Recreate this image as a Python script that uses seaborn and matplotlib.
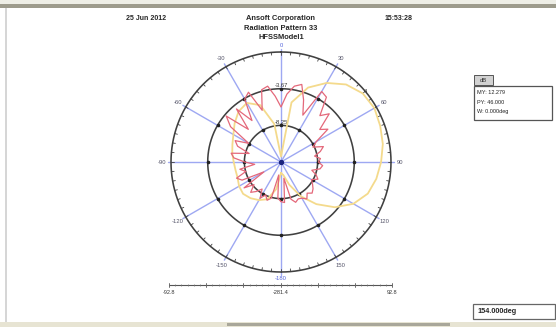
import numpy as np
import pandas as pd
import matplotlib
matplotlib.use("Agg")
import matplotlib.pyplot as plt
from matplotlib.patches import Rectangle
import seaborn as sns

# ---- data ---------------------------------------------------------------
ring_levels = [-8.25, -3.67, 0.92]          # dB levels of the three rings
ring_labels = ["-8.25", "-3.67"]
center_level = -12.83                         # dB at the plot centre

angle_ticks = [0, 30, 60, 90, 120, 150, 180, 210, 240, 270, 300, 330]
angle_labels = ["0", "30", "60", "90", "120", "150", "-180",
                "-150", "-120", "-90", "-60", "-30"]

# red trace, 5 degree steps from -180
red_angles = list(range(-180, 180, 5))
red_norm = [0.36, 0.33, 0.12, 0.34, 0.37, 0.33, 0.38, 0.30, 0.35, 0.39,
            0.32, 0.41, 0.18, 0.39, 0.43, 0.33, 0.38, 0.24, 0.33, 0.43,
            0.46, 0.30, 0.42, 0.46, 0.34, 0.56, 0.65, 0.42, 0.63, 0.46,
            0.66, 0.70, 0.50, 0.68, 0.70, 0.60, 0.50, 0.62, 0.70, 0.73,
            0.60, 0.47, 0.74, 0.72, 0.55, 0.62, 0.46, 0.52, 0.37, 0.32,
            0.41, 0.37, 0.31, 0.36, 0.34, 0.38, 0.36, 0.29, 0.34, 0.37,
            0.32, 0.35, 0.38, 0.40, 0.37, 0.41, 0.38, 0.37, 0.39, 0.35,
            0.15, 0.37]

# yellow trace, 10 degree steps from -180
yel_angles = list(range(-180, 180, 10))
yel_norm = [0.10, 0.25, 0.36, 0.40, 0.43, 0.45, 0.44, 0.42, 0.42, 0.43,
            0.45, 0.47, 0.50, 0.55, 0.60, 0.62, 0.55, 0.35, 0.05, 0.55,
            0.72, 0.83, 0.92, 0.97, 0.98, 0.96, 0.94, 0.91, 0.88, 0.84,
            0.76, 0.64, 0.50, 0.36, 0.22, 0.12]

span = ring_levels[-1] - center_level
red_db = [center_level + v * span for v in red_norm]
yel_db = [center_level + v * span for v in yel_norm]

header_left = "25 Jun 2012"
header_mid = ["Ansoft Corporation", "Radiation Pattern 33", "HFSSModel1"]
header_right = "15:53:28"
marker_lines = ["MY: 12.279", "PY: 46.000", "W: 0.000deg"]
scale_labels = ["-92.8", "-281.4", "92.8"]
status_text = "154.000deg"

# ---- style --------------------------------------------------------------
sns.set_style("white")
plt.rcParams["font.family"] = ["Liberation Sans", "DejaVu Sans"]

W, H = 556, 327
fig = plt.figure(figsize=(W / 100, H / 100), dpi=100)
fig.patch.set_facecolor("white")

def to_r(db):
    return (np.asarray(db) - center_level) / span

# ---- polar plot ---------------------------------------------------------
cx, cy, R = 281, 162, 110
rmax = 1.16
half = R * rmax
ax = fig.add_axes([(cx - half) / W, (H - cy - half) / H, 2 * half / W, 2 * half / H],
                  projection="polar")
ax.set_theta_zero_location("N")
ax.set_theta_direction(-1)
ax.set_ylim(0, rmax)
ax.grid(False)
ax.set_xticks([])
ax.set_yticks([])
ax.spines["polar"].set_visible(False)
ax.set_facecolor("none")

spoke_col = "#9ea8f2"
ring_col = "#404040"
full = np.linspace(0, 2 * np.pi, 721)

for a in angle_ticks:
    t = np.deg2rad(a)
    ax.plot([t, t], [0, 1.03], color=spoke_col, lw=1.0, zorder=1)

for lvl in ring_levels:
    ax.plot(full, np.full_like(full, to_r(lvl)), color=ring_col, lw=1.15, zorder=2)

# small ticks round the outer ring
for a in range(0, 360, 5):
    t = np.deg2rad(a)
    ax.plot([t, t], [0.975, 1.0], color=ring_col, lw=0.6, zorder=2)

# dots where the spokes cross the inner rings
spk = np.deg2rad(angle_ticks)
for lvl in ring_levels[:2]:
    ax.scatter(spk, np.full(len(spk), to_r(lvl)), s=2.5, color="#222222", zorder=3)

for a, lab in zip(angle_ticks, angle_labels):
    col = "#5566dd" if a in (0, 180) else "#55556a"
    rr = 1.055 if a in (0, 180) else 1.085
    ax.text(np.deg2rad(a), rr, lab, fontsize=4.2, color=col,
            ha="center", va="center", zorder=4)

for lvl, lab in zip(ring_levels[:2], ring_labels):
    ax.text(0.0, to_r(lvl) + 0.03, lab, fontsize=4.2, color="#333333",
            ha="center", va="center", zorder=4)

ax.text(np.deg2rad(50), 1.0, "4", fontsize=4.2, color="#333333",
        ha="center", va="center", zorder=4)

red_df = pd.DataFrame({"theta": np.deg2rad(red_angles + [red_angles[0]]),
                       "r": to_r(red_db + [red_db[0]])})
yel_df = pd.DataFrame({"theta": np.deg2rad(yel_angles + [yel_angles[0]]),
                       "r": to_r(yel_db + [yel_db[0]])})

sns.lineplot(data=yel_df, x="theta", y="r", ax=ax, sort=False, estimator=None,
             color="#f4da8c", lw=1.3, zorder=5)
sns.lineplot(data=red_df, x="theta", y="r", ax=ax, sort=False, estimator=None,
             color="#e4687a", lw=0.9, zorder=6)
ax.set_xlabel("")
ax.set_ylabel("")
ax.scatter([0], [0], s=8, color="#1a237e", zorder=7)

# ---- overlay in pixel coordinates --------------------------------------
ov = fig.add_axes([0, 0, 1, 1], zorder=-1)
ov.set_xlim(0, W)
ov.set_ylim(H, 0)
ov.axis("off")

# window frame
ov.add_patch(Rectangle((0, 0), W, 3.5, color="#eeeee6", lw=0))
ov.add_patch(Rectangle((0, 3.5), W, 4.5, color="#9d9b8c", lw=0))
ov.add_patch(Rectangle((5, 8), 2, 314, color="#d6d6d6", lw=0))
ov.add_patch(Rectangle((0, 322), W, 5, color="#e7e4d3", lw=0))
ov.add_patch(Rectangle((227, 323), 223, 3, color="#a9a79a", lw=0))

ov.text(146, 19, header_left, fontsize=5.0, fontweight="bold", ha="center", va="center")
for i, line in enumerate(header_mid):
    ov.text(281, 18.5 + 9.5 * i, line, fontsize=5.4, fontweight="bold", ha="center", va="center")
ov.text(399, 19, header_right, fontsize=5.0, fontweight="bold", ha="center", va="center")

# marker readout box
ov.add_patch(Rectangle((474, 75), 19, 10, facecolor="#d2d2d2", edgecolor="#555555", lw=0.7))
ov.text(483.5, 80, "dB", fontsize=4.2, ha="center", va="center", color="#333333")
ov.add_patch(Rectangle((474, 86), 78, 34, facecolor="white", edgecolor="#555555", lw=0.9))
for i, line in enumerate(marker_lines):
    ov.text(477, 93 + 9.5 * i, line, fontsize=4.0, ha="left", va="center", color="#222222")

# scale bar under the plot
x0, x1, yb = 169, 392, 285
ov.plot([x0, x1], [yb, yb], color="#555555", lw=0.8)
for x in np.linspace(x0, x1, 7):
    ov.plot([x, x], [yb - 2, yb + 2], color="#555555", lw=0.6)
for x in np.linspace(x0, x1, 37):
    ov.plot([x, x], [yb - 0.8, yb + 0.8], color="#777777", lw=0.4)
for x, lab in zip([x0, (x0 + x1) / 2, x1], scale_labels):
    ov.text(x, yb + 8, lab, fontsize=4.0, ha="center", va="center", color="#333333")

# status box
ov.add_patch(Rectangle((473, 304), 82, 15, facecolor="white", edgecolor="#666666", lw=0.9))
ov.text(477, 311.5, status_text, fontsize=5.2, fontweight="bold", ha="left", va="center")

fig.savefig("out.png", dpi=100, facecolor="white")
